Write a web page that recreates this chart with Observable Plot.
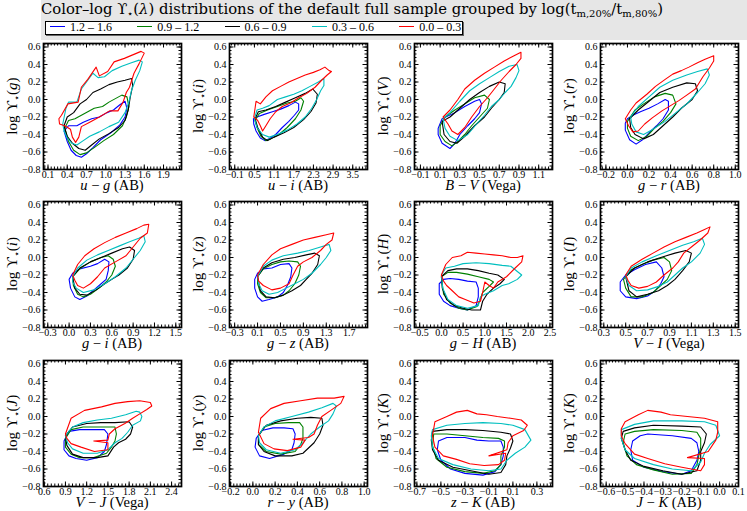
<!DOCTYPE html>
<html><head><meta charset="utf-8">
<script src="https://cdn.jsdelivr.net/npm/d3@7"></script>
<script src="https://cdn.jsdelivr.net/npm/@observablehq/plot@0.6"></script>
<style>
html,body{margin:0;padding:0;background:#fff;}
body{width:747px;height:511px;overflow:hidden;position:relative;font-family:"Liberation Serif",serif;}
#head{position:absolute;left:41px;top:0;width:706px;height:40px;background:#e6e6e6;}
#title{position:absolute;left:0;top:2px;font-family:"DejaVu Serif",serif;font-size:14.8px;line-height:14px;white-space:nowrap;color:#000;}
#title sub{font-size:10px;vertical-align:-3px;line-height:0;}
#legend{position:absolute;left:4px;top:21px;width:416px;height:12px;background:#fff;border:1px solid #000;box-shadow:1px 1px 0 #666;}
.item{position:absolute;top:-1px;font-size:12px;line-height:13px;white-space:nowrap;}
.item i{display:inline-block;width:15px;height:0;border-top:1.2px solid;vertical-align:4px;margin-right:5px;}
.panel{position:absolute;}
</style></head>
<body>
<div id="head">
  <div id="title">Color–log ϒ<sub>⋆</sub>(<i>λ</i>) distributions of the default full sample grouped by log(t<sub>m,20%</sub>/t<sub>m,80%</sub>)</div>
  <div id="legend"></div>
</div>
<div id="charts"></div>
<script>
// ---------------- data ----------------
const groupNames = ["1.2 – 1.6", "0.9 – 1.2", "0.6 – 0.9", "0.3 – 0.6", "0.0 – 0.3"];
const groupColors = ["#0000ff", "#008000", "#000000", "#00bfbf", "#ff0000"];

const xColors = [["u","g","AB"],["u","i","AB"],["B","V","Vega"],["g","r","AB"],
                 ["g","i","AB"],["g","z","AB"],["g","H","AB"],["V","I","Vega"],
                 ["V","J","Vega"],["r","y","AB"],["z","K","AB"],["J","K","AB"]];
const yBands = ["g","i","V","r","i","z","H","I","J","y","K","K"];
const xDomains = [[0.03,2.18],[-0.26,3.95],[-0.16,1.24],[-0.25,1.03],
                  [-0.36,1.58],[-0.39,2.02],[-0.62,2.56],[0.27,1.53],
                  [0.59,2.54],[-0.21,1.03],[-0.72,0.43],[-0.63,0.10]];
const xTicks = [[0.1,0.4,0.7,1.0,1.3,1.6,1.9],[-0.1,0.5,1.1,1.7,2.3,2.9,3.5],
                [-0.1,0.1,0.3,0.5,0.7,0.9,1.1],[-0.2,0.0,0.2,0.4,0.6,0.8,1.0],
                [-0.3,0.0,0.3,0.6,0.9,1.2,1.5],[-0.3,0.1,0.5,0.9,1.3,1.7],
                [-0.5,0.0,0.5,1.0,1.5,2.0,2.5],[0.3,0.5,0.7,0.9,1.1,1.3,1.5],
                [0.6,0.9,1.2,1.5,1.8,2.1,2.4],[-0.2,0.0,0.2,0.4,0.6,0.8,1.0],
                [-0.7,-0.5,-0.3,-0.1,0.1,0.3],[-0.6,-0.5,-0.4,-0.3,-0.2,-0.1,0.0,0.1]];
const yDomain = [-0.8, 0.64];
const yTicks = [-0.8,-0.6,-0.4,-0.2,0.0,0.2,0.4,0.6];

// panel 1: u-g
const ugB = [[0.35,-0.36],[0.42,-0.30],[0.55,-0.30],[0.65,-0.26],[0.78,-0.22],[0.90,-0.20],[1.02,-0.15],[1.12,-0.12],[1.22,-0.06],[1.30,-0.02],[1.33,-0.10],[1.30,-0.20],[1.22,-0.29],[1.08,-0.38],[0.92,-0.46],[0.80,-0.55],[0.70,-0.62],[0.62,-0.66],[0.54,-0.64],[0.46,-0.58],[0.40,-0.48]];
const ugG = [[0.36,-0.33],[0.42,-0.24],[0.52,-0.22],[0.62,-0.18],[0.72,-0.14],[0.82,-0.10],[0.95,-0.08],[1.05,-0.03],[1.15,0.01],[1.25,0.05],[1.33,0.03],[1.36,-0.08],[1.32,-0.20],[1.26,-0.30],[1.12,-0.40],[0.97,-0.47],[0.82,-0.55],[0.70,-0.61],[0.60,-0.63],[0.50,-0.58],[0.42,-0.48]];
const ugK = [[0.35,-0.30],[0.40,-0.20],[0.50,-0.15],[0.60,-0.05],[0.70,0.00],[0.80,0.08],[0.92,0.12],[1.05,0.17],[1.18,0.20],[1.30,0.22],[1.40,0.24],[1.42,0.16],[1.38,0.02],[1.35,-0.12],[1.30,-0.24],[1.20,-0.32],[1.05,-0.39],[0.90,-0.45],[0.78,-0.52],[0.68,-0.58],[0.58,-0.56],[0.48,-0.50],[0.40,-0.42]];
const ugC = [[0.33,-0.28],[0.38,-0.10],[0.42,-0.03],[0.55,-0.03],[0.62,0.12],[0.72,0.22],[0.80,0.30],[0.88,0.25],[0.98,0.26],[1.10,0.33],[1.25,0.38],[1.40,0.42],[1.52,0.45],[1.57,0.43],[1.53,0.33],[1.46,0.22],[1.40,0.10],[1.36,-0.03],[1.30,-0.15],[1.20,-0.26],[1.05,-0.31],[0.90,-0.37],[0.75,-0.42],[0.65,-0.47],[0.55,-0.52],[0.47,-0.50],[0.40,-0.44],[0.35,-0.36]];
const ugR = [[0.27,-0.22],[0.31,-0.18],[0.41,-0.05],[0.57,-0.03],[0.62,0.14],[0.72,0.23],[0.85,0.37],[0.90,0.27],[1.03,0.32],[1.13,0.43],[1.29,0.47],[1.42,0.51],[1.55,0.55],[1.60,0.53],[1.52,0.41],[1.44,0.30],[1.37,0.14],[1.32,0.08],[1.27,-0.03],[1.19,-0.13],[1.06,-0.13],[0.90,-0.20],[0.75,-0.26],[0.62,-0.31],[0.58,-0.43],[0.53,-0.49],[0.48,-0.43],[0.45,-0.34],[0.36,-0.30],[0.28,-0.28]];

// panel 2: u-i
const uiB = [[0.47,-0.22],[0.58,-0.20],[0.80,-0.17],[1.05,-0.14],[1.30,-0.11],[1.55,-0.07],[1.75,-0.03],[1.85,-0.05],[1.85,-0.12],[1.72,-0.18],[1.55,-0.25],[1.35,-0.32],[1.15,-0.40],[0.95,-0.45],[0.82,-0.47],[0.68,-0.44],[0.55,-0.36],[0.48,-0.28]];
const uiG = [[0.52,-0.24],[0.65,-0.16],[0.90,-0.12],[1.20,-0.08],[1.50,-0.04],[1.75,-0.02],[1.92,0.02],[2.00,-0.02],[1.92,-0.12],[1.75,-0.22],[1.50,-0.32],[1.25,-0.40],[1.00,-0.45],[0.85,-0.47],[0.70,-0.42],[0.58,-0.32]];
const uiK = [[0.52,-0.22],[0.62,-0.14],[0.85,-0.12],[1.15,-0.08],[1.45,-0.03],[1.75,0.02],[2.05,0.07],[2.28,0.12],[2.42,0.06],[2.38,-0.04],[2.22,-0.14],[2.00,-0.23],[1.70,-0.32],[1.40,-0.38],[1.10,-0.43],[0.90,-0.47],[0.75,-0.43],[0.60,-0.32]];
const uiC = [[0.50,-0.22],[0.58,-0.12],[0.75,-0.10],[0.95,-0.07],[1.20,0.00],[1.45,0.03],[1.70,0.06],[1.95,0.10],[2.20,0.15],[2.45,0.20],[2.62,0.24],[2.62,0.16],[2.52,0.10],[2.40,0.00],[2.25,-0.10],[2.05,-0.20],[1.80,-0.28],[1.50,-0.35],[1.20,-0.40],[0.95,-0.43],[0.75,-0.40],[0.58,-0.32]];
const uiR = [[0.48,-0.20],[0.52,-0.10],[0.55,-0.02],[0.68,-0.05],[0.85,0.03],[1.05,0.10],[1.30,0.15],[1.55,0.20],[1.80,0.24],[2.05,0.28],[2.30,0.31],[2.50,0.34],[2.65,0.37],[2.78,0.33],[2.85,0.32],[2.72,0.28],[2.55,0.22],[2.35,0.14],[2.10,0.07],[1.85,0.02],[1.60,-0.04],[1.35,-0.08],[1.15,-0.14],[0.98,-0.22],[0.85,-0.30],[0.75,-0.36],[0.68,-0.30],[0.60,-0.24]];

// panel 3: B-V
const bvB = [[0.08,-0.33],[0.12,-0.22],[0.25,-0.15],[0.35,-0.08],[0.45,-0.02],[0.50,0.00],[0.52,-0.05],[0.50,-0.15],[0.45,-0.22],[0.38,-0.30],[0.30,-0.40],[0.25,-0.50],[0.20,-0.56],[0.12,-0.50],[0.08,-0.40]];
const bvG = [[0.10,-0.30],[0.15,-0.20],[0.25,-0.12],[0.35,-0.05],[0.45,0.02],[0.55,0.05],[0.60,0.00],[0.58,-0.10],[0.50,-0.20],[0.42,-0.30],[0.35,-0.40],[0.28,-0.48],[0.22,-0.53],[0.15,-0.48],[0.10,-0.40]];
const bvK = [[0.12,-0.25],[0.20,-0.20],[0.30,-0.10],[0.40,0.00],[0.50,0.08],[0.60,0.15],[0.70,0.20],[0.76,0.18],[0.75,0.08],[0.70,0.00],[0.62,-0.10],[0.55,-0.20],[0.45,-0.30],[0.35,-0.42],[0.27,-0.50],[0.20,-0.48],[0.14,-0.40]];
const bvC = [[0.13,-0.22],[0.20,-0.15],[0.30,-0.02],[0.40,0.10],[0.50,0.18],[0.60,0.25],[0.70,0.32],[0.80,0.38],[0.88,0.40],[0.90,0.33],[0.87,0.25],[0.82,0.15],[0.76,0.08],[0.70,0.00],[0.62,-0.08],[0.55,-0.18],[0.47,-0.28],[0.38,-0.40],[0.28,-0.47],[0.20,-0.42],[0.15,-0.33]];
const bvR = [[0.13,-0.20],[0.20,-0.12],[0.28,0.00],[0.35,0.12],[0.45,0.22],[0.55,0.30],[0.65,0.37],[0.75,0.44],[0.85,0.50],[0.92,0.54],[0.92,0.47],[0.87,0.40],[0.80,0.32],[0.72,0.22],[0.65,0.12],[0.58,0.02],[0.50,-0.08],[0.42,-0.20],[0.35,-0.32],[0.28,-0.40],[0.22,-0.36],[0.18,-0.28]];

// panel 4: g-r
const grB = [[0.00,-0.22],[0.05,-0.18],[0.12,-0.14],[0.20,-0.10],[0.28,-0.05],[0.35,0.00],[0.38,-0.02],[0.38,-0.12],[0.33,-0.22],[0.27,-0.30],[0.20,-0.38],[0.14,-0.46],[0.08,-0.51],[0.02,-0.46],[-0.02,-0.35],[-0.02,-0.27]];
const grG = [[0.00,-0.25],[0.07,-0.12],[0.15,-0.05],[0.25,0.03],[0.35,0.07],[0.42,0.05],[0.45,-0.05],[0.40,-0.15],[0.33,-0.25],[0.25,-0.33],[0.18,-0.42],[0.10,-0.47],[0.03,-0.42],[0.00,-0.33]];
const grK = [[0.02,-0.22],[0.10,-0.12],[0.20,-0.02],[0.30,0.08],[0.42,0.14],[0.55,0.19],[0.63,0.18],[0.65,0.10],[0.60,0.00],[0.50,-0.10],[0.42,-0.20],[0.33,-0.30],[0.24,-0.40],[0.15,-0.45],[0.07,-0.40],[0.03,-0.32]];
const grC = [[0.03,-0.20],[0.10,-0.08],[0.20,0.03],[0.30,0.14],[0.42,0.22],[0.55,0.28],[0.65,0.32],[0.74,0.35],[0.76,0.28],[0.72,0.18],[0.65,0.08],[0.55,-0.05],[0.45,-0.15],[0.35,-0.25],[0.25,-0.33],[0.15,-0.40],[0.08,-0.37],[0.04,-0.28]];
const grR = [[-0.02,-0.22],[0.03,-0.12],[0.08,-0.04],[0.18,0.06],[0.26,0.15],[0.35,0.23],[0.42,0.29],[0.50,0.33],[0.57,0.37],[0.65,0.42],[0.72,0.46],[0.80,0.50],[0.80,0.44],[0.76,0.36],[0.70,0.26],[0.63,0.12],[0.55,0.05],[0.48,-0.01],[0.40,-0.07],[0.32,-0.13],[0.23,-0.21],[0.16,-0.28],[0.10,-0.36],[0.05,-0.37],[0.01,-0.30]];

// panel 5: g-i
const giB = [[0.00,-0.25],[0.05,-0.18],[0.15,-0.13],[0.30,-0.10],[0.40,-0.07],[0.50,-0.02],[0.56,-0.05],[0.55,-0.15],[0.52,-0.25],[0.45,-0.30],[0.35,-0.37],[0.25,-0.44],[0.15,-0.48],[0.08,-0.45],[0.02,-0.35]];
const giG = [[0.05,-0.22],[0.15,-0.13],[0.30,-0.05],[0.45,0.00],[0.55,0.02],[0.62,-0.02],[0.65,-0.10],[0.60,-0.20],[0.52,-0.28],[0.42,-0.35],[0.30,-0.42],[0.20,-0.45],[0.12,-0.42],[0.06,-0.32]];
const giK = [[0.05,-0.22],[0.15,-0.12],[0.30,-0.05],[0.45,0.00],[0.60,0.05],[0.75,0.10],[0.85,0.12],[0.92,0.08],[0.90,-0.02],[0.82,-0.12],[0.70,-0.20],[0.60,-0.25],[0.50,-0.30],[0.38,-0.37],[0.25,-0.43],[0.15,-0.42],[0.08,-0.35]];
const giC = [[0.05,-0.22],[0.12,-0.12],[0.25,-0.03],[0.40,0.03],[0.55,0.08],[0.70,0.13],[0.85,0.18],[0.98,0.22],[1.05,0.25],[1.07,0.18],[1.00,0.08],[0.90,-0.02],[0.80,-0.12],[0.65,-0.22],[0.50,-0.30],[0.35,-0.37],[0.20,-0.40],[0.10,-0.35],[0.05,-0.28]];
const giR = [[0.05,-0.20],[0.12,-0.08],[0.22,0.02],[0.35,0.10],[0.50,0.17],[0.65,0.23],[0.80,0.28],[0.95,0.33],[1.05,0.37],[1.12,0.38],[1.10,0.28],[1.00,0.22],[0.90,0.12],[0.80,0.02],[0.65,-0.05],[0.50,-0.12],[0.40,-0.22],[0.30,-0.30],[0.20,-0.35],[0.12,-0.32],[0.08,-0.26]];

// panel 6: g-z
const gzB = [[0.05,-0.25],[0.10,-0.18],[0.20,-0.13],[0.35,-0.12],[0.50,-0.08],[0.65,-0.07],[0.70,-0.12],[0.68,-0.22],[0.62,-0.32],[0.55,-0.40],[0.45,-0.45],[0.30,-0.48],[0.18,-0.50],[0.10,-0.45],[0.05,-0.35]];
const gzG = [[0.10,-0.22],[0.20,-0.13],[0.35,-0.08],[0.50,-0.05],[0.65,-0.04],[0.80,-0.05],[0.85,-0.10],[0.82,-0.20],[0.75,-0.30],[0.65,-0.38],[0.55,-0.43],[0.40,-0.46],[0.25,-0.46],[0.15,-0.40],[0.10,-0.30]];
const gzK = [[0.10,-0.22],[0.20,-0.12],[0.35,-0.06],[0.55,-0.02],[0.75,0.00],[0.95,0.03],[1.10,0.05],[1.18,0.02],[1.15,-0.08],[1.05,-0.18],[0.95,-0.25],[0.85,-0.32],[0.70,-0.38],[0.55,-0.43],[0.40,-0.46],[0.25,-0.45],[0.15,-0.38]];
const gzC = [[0.10,-0.22],[0.20,-0.10],[0.35,-0.03],[0.55,0.02],[0.80,0.05],[1.00,0.08],[1.20,0.12],[1.35,0.15],[1.38,0.08],[1.30,0.00],[1.20,-0.08],[1.05,-0.18],[0.90,-0.25],[0.75,-0.30],[0.60,-0.35],[0.45,-0.40],[0.30,-0.42],[0.18,-0.38],[0.12,-0.30]];
const gzR = [[0.10,-0.20],[0.20,-0.08],[0.35,0.03],[0.50,0.10],[0.70,0.15],[0.90,0.20],[1.10,0.23],[1.30,0.26],[1.43,0.28],[1.40,0.20],[1.30,0.15],[1.20,0.08],[1.05,0.00],[0.90,-0.05],[0.80,-0.10],[0.72,-0.20],[0.65,-0.30],[0.50,-0.35],[0.35,-0.37],[0.20,-0.32],[0.12,-0.27]];

// panel 7: g-H
const ghB = [[-0.05,-0.30],[0.05,-0.25],[0.20,-0.24],[0.40,-0.25],[0.60,-0.27],[0.80,-0.28],[0.85,-0.35],[0.85,-0.45],[0.80,-0.55],[0.60,-0.60],[0.40,-0.58],[0.20,-0.55],[0.05,-0.50],[-0.05,-0.42]];
const ghG = [[0.00,-0.22],[0.15,-0.17],[0.35,-0.17],[0.60,-0.19],[0.85,-0.22],[1.10,-0.25],[1.20,-0.28],[1.10,-0.33],[0.95,-0.40],[0.88,-0.50],[0.82,-0.56],[0.60,-0.60],[0.40,-0.58],[0.20,-0.52],[0.05,-0.42]];
const ghK = [[0.00,-0.22],[0.15,-0.15],[0.35,-0.13],[0.60,-0.13],[0.85,-0.15],[1.10,-0.18],[1.30,-0.20],[1.45,-0.25],[1.35,-0.30],[1.20,-0.35],[1.05,-0.42],[0.95,-0.50],[0.90,-0.60],[0.70,-0.60],[0.50,-0.58],[0.30,-0.55],[0.12,-0.48],[0.02,-0.35]];
const ghC = [[0.00,-0.20],[0.10,-0.12],[0.30,-0.10],[0.50,-0.07],[0.80,-0.06],[1.10,-0.07],[1.40,-0.09],[1.60,-0.10],[1.80,-0.18],[1.85,-0.20],[1.75,-0.25],[1.55,-0.30],[1.40,-0.32],[1.20,-0.38],[1.00,-0.42],[0.90,-0.45],[0.85,-0.55],[0.60,-0.58],[0.35,-0.55],[0.15,-0.48],[0.03,-0.35]];
const ghR = [[0.00,-0.20],[0.10,-0.08],[0.25,0.00],[0.45,0.02],[0.60,0.06],[0.80,0.05],[1.00,0.04],[1.20,0.03],[1.40,0.02],[1.60,0.00],[1.75,0.00],[1.88,0.02],[1.85,-0.05],[1.70,-0.12],[1.50,-0.22],[1.30,-0.28],[1.20,-0.35],[1.10,-0.32],[1.00,-0.28],[0.95,-0.40],[0.90,-0.50],[0.75,-0.52],[0.55,-0.48],[0.40,-0.45],[0.25,-0.38],[0.12,-0.32],[0.05,-0.27]];

// panel 8: V-I
const viB = [[0.45,-0.28],[0.50,-0.20],[0.58,-0.14],[0.68,-0.08],[0.78,-0.05],[0.83,-0.12],[0.85,-0.22],[0.82,-0.30],[0.77,-0.38],[0.70,-0.44],[0.60,-0.47],[0.50,-0.45],[0.45,-0.38]];
const viG = [[0.48,-0.25],[0.55,-0.14],[0.65,-0.08],[0.75,-0.03],[0.85,0.00],[0.90,-0.05],[0.92,-0.15],[0.88,-0.25],[0.82,-0.32],[0.75,-0.40],[0.65,-0.45],[0.55,-0.45],[0.50,-0.35]];
const viK = [[0.50,-0.22],[0.58,-0.12],[0.70,-0.05],[0.82,0.00],[0.95,0.05],[1.05,0.08],[1.10,0.05],[1.08,-0.05],[1.02,-0.15],[0.95,-0.25],[0.88,-0.32],[0.80,-0.38],[0.70,-0.42],[0.60,-0.45],[0.53,-0.38]];
const viC = [[0.50,-0.22],[0.55,-0.12],[0.65,-0.05],[0.78,0.02],[0.90,0.08],[1.02,0.14],[1.12,0.18],[1.20,0.22],[1.22,0.15],[1.18,0.05],[1.10,-0.05],[1.02,-0.12],[0.95,-0.20],[0.88,-0.28],[0.80,-0.33],[0.70,-0.37],[0.60,-0.38],[0.53,-0.32]];
const viR = [[0.50,-0.20],[0.55,-0.10],[0.65,-0.02],[0.75,0.05],[0.85,0.12],[0.95,0.18],[1.05,0.23],[1.15,0.28],[1.22,0.32],[1.27,0.35],[1.25,0.28],[1.18,0.20],[1.10,0.12],[1.03,0.05],[0.98,-0.05],[0.93,-0.12],[0.85,-0.20],[0.78,-0.28],[0.70,-0.33],[0.62,-0.35],[0.55,-0.32],[0.52,-0.26]];

// panel 9: V-J
const vjB = [[0.88,-0.28],[0.95,-0.17],[1.10,-0.15],[1.30,-0.15],[1.45,-0.15],[1.50,-0.20],[1.48,-0.32],[1.45,-0.40],[1.35,-0.47],[1.20,-0.50],[1.05,-0.48],[0.95,-0.45],[0.88,-0.38]];
const vjG = [[0.90,-0.25],[0.98,-0.15],[1.15,-0.12],[1.35,-0.12],[1.50,-0.12],[1.60,-0.12],[1.62,-0.20],[1.60,-0.28],[1.55,-0.35],[1.48,-0.42],[1.30,-0.47],[1.10,-0.47],[0.98,-0.43],[0.90,-0.35]];
const vjK = [[0.90,-0.22],[1.00,-0.12],[1.20,-0.08],[1.40,-0.07],[1.60,-0.07],[1.80,-0.06],[1.85,-0.12],[1.82,-0.20],[1.75,-0.26],[1.65,-0.30],[1.58,-0.35],[1.50,-0.45],[1.35,-0.47],[1.15,-0.47],[1.00,-0.43],[0.92,-0.33]];
const vjC = [[0.90,-0.22],[1.00,-0.12],[1.15,-0.07],[1.35,-0.04],[1.55,-0.02],[1.75,0.02],[1.90,0.06],[1.95,0.05],[1.98,0.00],[1.96,-0.05],[1.85,-0.10],[1.78,-0.18],[1.70,-0.25],[1.60,-0.30],[1.50,-0.38],[1.35,-0.42],[1.15,-0.42],[1.00,-0.37],[0.93,-0.30]];
const vjR = [[0.90,-0.20],[0.98,-0.02],[1.17,0.07],[1.41,0.11],[1.60,0.15],[1.78,0.17],[1.95,0.18],[2.10,0.16],[2.12,0.12],[2.05,0.08],[1.95,0.03],[1.85,-0.02],[1.74,-0.08],[1.60,-0.14],[1.52,-0.20],[1.50,-0.27],[1.30,-0.28],[1.50,-0.30],[1.50,-0.38],[1.31,-0.40],[1.12,-0.35],[0.98,-0.31],[0.92,-0.25]];

// panel 10: r-y
const ryB = [[0.03,-0.25],[0.08,-0.16],[0.18,-0.13],[0.28,-0.13],[0.36,-0.14],[0.38,-0.20],[0.37,-0.30],[0.35,-0.38],[0.28,-0.43],[0.15,-0.48],[0.06,-0.45],[0.02,-0.35]];
const ryG = [[0.05,-0.22],[0.10,-0.12],[0.20,-0.08],[0.32,-0.07],[0.42,-0.07],[0.45,-0.12],[0.45,-0.25],[0.43,-0.32],[0.38,-0.40],[0.25,-0.43],[0.12,-0.40],[0.05,-0.32]];
const ryK = [[0.05,-0.22],[0.12,-0.10],[0.25,-0.05],[0.40,-0.02],[0.52,-0.01],[0.62,-0.02],[0.63,-0.10],[0.60,-0.20],[0.55,-0.30],[0.45,-0.42],[0.35,-0.45],[0.20,-0.45],[0.10,-0.40],[0.05,-0.32]];
const ryC = [[0.05,-0.22],[0.10,-0.12],[0.20,-0.05],[0.35,0.00],[0.50,0.05],[0.62,0.10],[0.72,0.15],[0.75,0.12],[0.72,0.03],[0.68,-0.05],[0.60,-0.12],[0.52,-0.20],[0.45,-0.30],[0.38,-0.38],[0.25,-0.42],[0.12,-0.38],[0.06,-0.30]];
const ryR = [[0.05,-0.18],[0.07,-0.02],[0.16,0.09],[0.28,0.15],[0.43,0.18],[0.58,0.21],[0.73,0.21],[0.82,0.23],[0.79,0.15],[0.70,0.07],[0.62,0.00],[0.58,-0.10],[0.55,-0.20],[0.50,-0.24],[0.36,-0.26],[0.47,-0.27],[0.43,-0.35],[0.31,-0.39],[0.19,-0.37],[0.10,-0.31]];

// panel 11: z-K
const zkB = [[-0.52,-0.28],[-0.45,-0.24],[-0.30,-0.24],[-0.20,-0.27],[-0.10,-0.28],[0.00,-0.28],[0.02,-0.35],[0.02,-0.45],[0.00,-0.55],[-0.05,-0.63],[-0.15,-0.67],[-0.30,-0.65],[-0.42,-0.60],[-0.50,-0.50],[-0.53,-0.38]];
const zkG = [[-0.56,-0.20],[-0.45,-0.20],[-0.30,-0.22],[-0.15,-0.24],[-0.02,-0.25],[0.03,-0.28],[0.03,-0.35],[0.00,-0.45],[0.00,-0.55],[-0.05,-0.62],[-0.15,-0.65],[-0.30,-0.63],[-0.45,-0.58],[-0.54,-0.48],[-0.57,-0.33]];
const zkK = [[-0.57,-0.17],[-0.45,-0.15],[-0.30,-0.15],[-0.15,-0.16],[0.00,-0.18],[0.08,-0.20],[0.10,-0.28],[0.08,-0.36],[0.05,-0.45],[0.04,-0.55],[0.00,-0.64],[-0.10,-0.66],[-0.25,-0.62],[-0.40,-0.58],[-0.52,-0.50],[-0.57,-0.38],[-0.58,-0.27]];
const zkC = [[-0.57,-0.15],[-0.45,-0.10],[-0.30,-0.08],[-0.15,-0.07],[0.00,-0.08],[0.10,-0.10],[0.20,-0.15],[0.25,-0.27],[0.20,-0.35],[0.12,-0.42],[0.05,-0.50],[0.00,-0.60],[-0.10,-0.62],[-0.25,-0.60],[-0.40,-0.55],[-0.52,-0.48],[-0.57,-0.35],[-0.58,-0.22]];
const zkR = [[-0.57,-0.22],[-0.55,-0.06],[-0.45,0.00],[-0.37,0.05],[-0.28,0.07],[-0.20,0.03],[-0.12,0.02],[-0.03,0.00],[0.08,-0.02],[0.17,-0.04],[0.22,-0.10],[0.19,-0.16],[0.10,-0.22],[0.06,-0.30],[0.05,-0.38],[-0.10,-0.45],[0.04,-0.42],[0.03,-0.50],[-0.02,-0.55],[-0.14,-0.56],[-0.26,-0.54],[-0.37,-0.49],[-0.48,-0.45],[-0.55,-0.35]];

// panel 12: J-K
const jkB = [[-0.46,-0.28],[-0.42,-0.22],[-0.38,-0.20],[-0.25,-0.22],[-0.15,-0.25],[-0.12,-0.30],[-0.11,-0.40],[-0.12,-0.50],[-0.15,-0.62],[-0.20,-0.66],[-0.30,-0.63],[-0.40,-0.58],[-0.46,-0.50],[-0.47,-0.38]];
const jkG = [[-0.50,-0.20],[-0.45,-0.17],[-0.35,-0.15],[-0.20,-0.16],[-0.12,-0.18],[-0.10,-0.25],[-0.10,-0.35],[-0.11,-0.45],[-0.12,-0.55],[-0.15,-0.65],[-0.25,-0.66],[-0.35,-0.61],[-0.44,-0.55],[-0.49,-0.45],[-0.51,-0.30]];
const jkK = [[-0.51,-0.17],[-0.45,-0.13],[-0.35,-0.10],[-0.20,-0.11],[-0.10,-0.12],[-0.07,-0.20],[-0.08,-0.30],[-0.10,-0.40],[-0.10,-0.50],[-0.12,-0.62],[-0.20,-0.66],[-0.30,-0.62],[-0.40,-0.57],[-0.47,-0.50],[-0.50,-0.38],[-0.52,-0.25]];
const jkC = [[-0.52,-0.15],[-0.45,-0.09],[-0.35,-0.05],[-0.20,-0.05],[-0.08,-0.06],[-0.02,-0.10],[0.00,-0.22],[-0.05,-0.32],[-0.08,-0.42],[-0.10,-0.52],[-0.15,-0.62],[-0.25,-0.60],[-0.35,-0.55],[-0.45,-0.48],[-0.50,-0.38],[-0.52,-0.25]];
const jkR = [[-0.52,-0.14],[-0.50,-0.06],[-0.43,0.02],[-0.38,0.07],[-0.31,0.05],[-0.26,0.02],[-0.17,0.00],[-0.08,-0.02],[-0.01,-0.06],[-0.01,-0.18],[-0.02,-0.27],[-0.06,-0.40],[-0.17,-0.47],[-0.08,-0.48],[-0.08,-0.55],[-0.10,-0.62],[-0.20,-0.58],[-0.29,-0.54],[-0.38,-0.48],[-0.45,-0.43],[-0.50,-0.31],[-0.52,-0.22]];

const panelContours = [
  [ugB, ugG, ugK, ugC, ugR], [uiB, uiG, uiK, uiC, uiR], [bvB, bvG, bvK, bvC, bvR], [grB, grG, grK, grC, grR],
  [giB, giG, giK, giC, giR], [gzB, gzG, gzK, gzC, gzR], [ghB, ghG, ghK, ghC, ghR], [viB, viG, viK, viC, viR],
  [vjB, vjG, vjK, vjC, vjR], [ryB, ryG, ryK, ryC, ryR], [zkB, zkG, zkK, zkC, zkR], [jkB, jkG, jkK, jkC, jkR]
];

// ---------------- legend ----------------
const legend = document.getElementById("legend");
groupNames.forEach((n, i) => {
  const d = document.createElement("div");
  d.className = "item";
  d.style.left = (4 + i * 87.3) + "px";
  d.innerHTML = `<i style="border-color:${groupColors[i]}"></i>${n}`;
  legend.appendChild(d);
});

// ---------------- panels ----------------
const W = 186, H = 160, ML = 43, MR = 5, MT = 5, MB = 29;
const FW = W - ML - MR, FH = H - MT - MB;
const colLeft = [0, 185.5, 371, 557];
const rowTop = [38, 196, 355];
const fmt = d => (d < 0 ? "\u2212" : "") + Math.abs(d).toFixed(1);

function minorTicks(domain, ticks) {
  const step = ticks[1] - ticks[0];
  const px = step / (domain[1] - domain[0]) * FW;
  const n = Math.max(2, Math.round(px / 3.4));
  const ms = step / n;
  const out = [];
  const k0 = Math.ceil((domain[0] - ticks[0]) / ms - 1e-9);
  const k1 = Math.floor((domain[1] - ticks[0]) / ms + 1e-9);
  for (let k = k0; k <= k1; k++) out.push(ticks[0] + k * ms);
  return out;
}

const charts = document.getElementById("charts");

panelContours.forEach((groups, p) => {
  const rows = [];
  groups.forEach((pts, gi) => {
    pts.concat([pts[0]]).forEach(([x, y]) => rows.push({g: gi, x, y}));
  });
  const xDom = xDomains[p];
  const xMaj = xTicks[p];
  const xMin = minorTicks(xDom, xMaj);
  const yMin = [];
  for (let k = 0; k * 0.04 <= yDomain[1] - yDomain[0] + 1e-9; k++) yMin.push(yDomain[0] + k * 0.04);
  const marks = [
    Plot.tickX(xMaj, {x: d => d, insetBottom: FH - 4.5, stroke: "#000"}),
    Plot.tickX(xMaj, {x: d => d, insetTop: FH - 4.5, stroke: "#000"}),
    Plot.tickX(xMin, {x: d => d, insetBottom: FH - 2.5, stroke: "#000"}),
    Plot.tickX(xMin, {x: d => d, insetTop: FH - 2.5, stroke: "#000"}),
    Plot.tickY(yTicks, {y: d => d, insetRight: FW - 4.5, stroke: "#000"}),
    Plot.tickY(yTicks, {y: d => d, insetLeft: FW - 4.5, stroke: "#000"}),
    Plot.tickY(yMin, {y: d => d, insetRight: FW - 2.5, stroke: "#000"}),
    Plot.tickY(yMin, {y: d => d, insetLeft: FW - 2.5, stroke: "#000"})
  ];
  groups.forEach((pts, gi) => {
    marks.push(Plot.line(rows.filter(r => r.g === gi), {x: "x", y: "y", stroke: groupColors[gi], strokeWidth: 1.1, curve: "linear"}));
  });
  marks.push(Plot.frame({stroke: "#000", strokeWidth: 1.7}));

  const svg = Plot.plot({
    width: W, height: H,
    marginLeft: ML, marginRight: MR, marginTop: MT, marginBottom: MB,
    style: {fontFamily: "'Liberation Serif', serif", fontSize: "10px", background: "transparent", color: "#000", overflow: "visible"},
    x: {domain: xDom, ticks: xMaj, tickFormat: fmt, tickSize: 0, tickPadding: 1, label: null},
    y: {domain: yDomain, ticks: yTicks, tickFormat: fmt, tickSize: 0, tickPadding: 3, label: null},
    marks
  });
  const s = d3.select(svg);
  const xl = s.append("text").attr("x", ML + FW / 2).attr("y", MT + FH + 20.5)
    .attr("text-anchor", "middle").attr("font-size", "14.5px").attr("fill", "#000");
  const [a, b, sys] = xColors[p];
  xl.append("tspan").attr("font-style", "italic").text(a);
  xl.append("tspan").text(" \u2212 ");
  xl.append("tspan").attr("font-style", "italic").text(b);
  xl.append("tspan").text(" (" + sys + ")");
  const yl = s.append("text")
    .attr("transform", `translate(${ML - 26},${MT + FH / 2}) rotate(-90)`)
    .attr("text-anchor", "middle").attr("font-size", "15px").attr("fill", "#000");
  yl.append("tspan").text("log \u03D2");
  yl.append("tspan").attr("font-size", "10px").attr("dy", "3").text("\u22C6");
  yl.append("tspan").attr("dy", "-3").text("(");
  yl.append("tspan").attr("font-style", "italic").text(yBands[p]);
  yl.append("tspan").text(")");

  const wrap = document.createElement("div");
  wrap.className = "panel";
  wrap.style.left = colLeft[p % 4] + "px";
  wrap.style.top = rowTop[Math.floor(p / 4)] + "px";
  wrap.appendChild(svg);
  charts.appendChild(wrap);
});
</script>
</body></html>
